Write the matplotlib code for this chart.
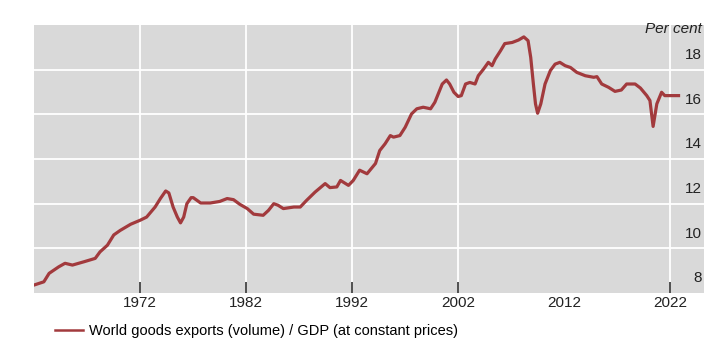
import matplotlib
matplotlib.use('Agg')
import matplotlib.pyplot as plt
from matplotlib.lines import Line2D
import matplotlib.transforms as mtransforms

# --- Data ---
years = [
    1962.0, 1962.9, 1963.4, 1964.3, 1964.9, 1965.6, 1966.7, 1967.75, 1968.2, 1968.9,
    1969.5, 1970.1, 1971.1, 1972.0, 1972.6, 1973.4, 1973.9, 1974.4, 1974.7, 1975.1,
    1975.5, 1975.8, 1976.1, 1976.4, 1976.8, 1977.0, 1977.7, 1978.6, 1979.5, 1980.2,
    1980.8, 1981.4, 1982.1, 1982.7, 1983.6, 1984.1, 1984.6, 1985.0, 1985.5, 1986.5,
    1987.1, 1987.7, 1988.5, 1989.45, 1989.9, 1990.55, 1990.9, 1991.65, 1992.1, 1992.7,
    1993.4, 1994.2, 1994.6, 1995.1, 1995.6, 1995.9, 1996.5, 1997.0, 1997.6, 1998.1,
    1998.7, 1999.4, 1999.8, 2000.5, 2000.9, 2001.2, 2001.6, 2002.0, 2002.3, 2002.7,
    2003.1, 2003.6, 2003.9, 2004.4, 2004.85, 2005.2, 2005.5, 2006.0, 2006.4, 2007.1,
    2007.7, 2008.2, 2008.6, 2008.85, 2009.1, 2009.3, 2009.5, 2009.8, 2010.2, 2010.7,
    2011.15, 2011.6, 2012.1, 2012.6, 2013.2, 2014.0, 2014.8, 2015.1, 2015.55, 2016.2,
    2016.8, 2017.4, 2017.9, 2018.7, 2019.2, 2019.8, 2020.1, 2020.4, 2020.75, 2021.2,
    2021.5, 2022.0, 2022.8,
]
ratio = [
    8.36, 8.5, 8.88, 9.17, 9.33, 9.25, 9.4, 9.55, 9.84, 10.14,
    10.6, 10.8, 11.08, 11.26, 11.4, 11.85, 12.23, 12.57, 12.48, 11.85,
    11.4, 11.14, 11.4, 12.0, 12.27, 12.27, 12.03, 12.03, 12.1, 12.23,
    12.18, 11.97, 11.78, 11.53, 11.48, 11.7, 12.0, 11.93, 11.78, 11.85,
    11.85, 12.15, 12.52, 12.9, 12.72, 12.75, 13.04, 12.82, 13.04, 13.5,
    13.34, 13.8, 14.38, 14.68, 15.05, 14.98, 15.05, 15.42, 16.02, 16.25,
    16.32, 16.25, 16.54, 17.36, 17.54, 17.36, 16.99, 16.8, 16.84, 17.36,
    17.43, 17.36, 17.73, 18.03, 18.33, 18.18, 18.48, 18.85, 19.17, 19.22,
    19.33, 19.47, 19.3, 18.55, 17.36, 16.47, 16.05, 16.47, 17.36, 17.96,
    18.25, 18.33, 18.18, 18.1, 17.88, 17.73, 17.66, 17.69, 17.36, 17.21,
    17.03, 17.09, 17.36, 17.36, 17.18, 16.84, 16.62, 15.46, 16.47, 16.99,
    16.84, 16.84, 16.84,
]
xtick_years = [1972, 1982, 1992, 2002, 2012, 2022]
ytick_vals = [8, 10, 12, 14, 16, 18]
series_label = 'World goods exports (volume) / GDP (at constant prices)'

# --- Style ---
FONT = ['Liberation Sans Narrow', 'Liberation Sans', 'DejaVu Sans']
PANEL = '#d9d9d9'
LINE = '#a23a3d'
TEXT = '#222222'
plt.rcParams['font.family'] = FONT

fig = plt.figure(figsize=(7.25, 3.58), dpi=100, facecolor='white')
ax = fig.add_axes([0.0473, 0.1816, 0.9237, 0.7484])
ax.set_facecolor(PANEL)

ax.plot(years, ratio, color=LINE, linewidth=2.3, solid_joinstyle='round', zorder=3)

ax.set_xlim(1962.0, 2025.2)
ax.set_ylim(8, 20)

# x axis: ticks inside, white vertical grid (none at 2012 in the original)
ax.set_xticks(xtick_years)
ax.set_xticklabels([str(y) for y in xtick_years])
ax.tick_params(axis='x', direction='in', length=8, width=1.2, color='#333333',
               pad=2, labelsize=11, labelcolor=TEXT)
ax.set_yticks(ytick_vals[1:])
ax.tick_params(axis='y', length=0, labelleft=False)
ax.grid(True, color='white', linewidth=1.3, zorder=1)
ax.set_axisbelow(True)
for i, y in enumerate(xtick_years):
    if y == 2012:
        t = ax.xaxis.get_major_ticks()[i]
        t.tick1line.set_visible(False)
        t.gridline.set_visible(False)

for s in ax.spines.values():
    s.set_visible(False)

# y labels sit just above their gridlines, inside the panel on the right
trans = mtransforms.blended_transform_factory(ax.transAxes, ax.transData)
offset = mtransforms.ScaledTranslation(0, 10.5 / 72, fig.dpi_scale_trans)
for v in ytick_vals:
    ax.text(0.997, v, str(v), transform=trans + offset, ha='right', va='center',
            fontsize=11, color=TEXT)
ax.text(0.997, 0.985, 'Per cent', transform=ax.transAxes, ha='right', va='center',
        fontsize=11, fontstyle='italic', color=TEXT)

# legend below
handle = Line2D([], [], color=LINE, linewidth=1.8)
fig.legend([handle], [series_label], loc='center left',
           bbox_to_anchor=(0.068, 0.075), frameon=False, fontsize=10.5,
           handlelength=1.9, handletextpad=0.4, borderaxespad=0)

fig.savefig('out.png', dpi=100, facecolor='white')
